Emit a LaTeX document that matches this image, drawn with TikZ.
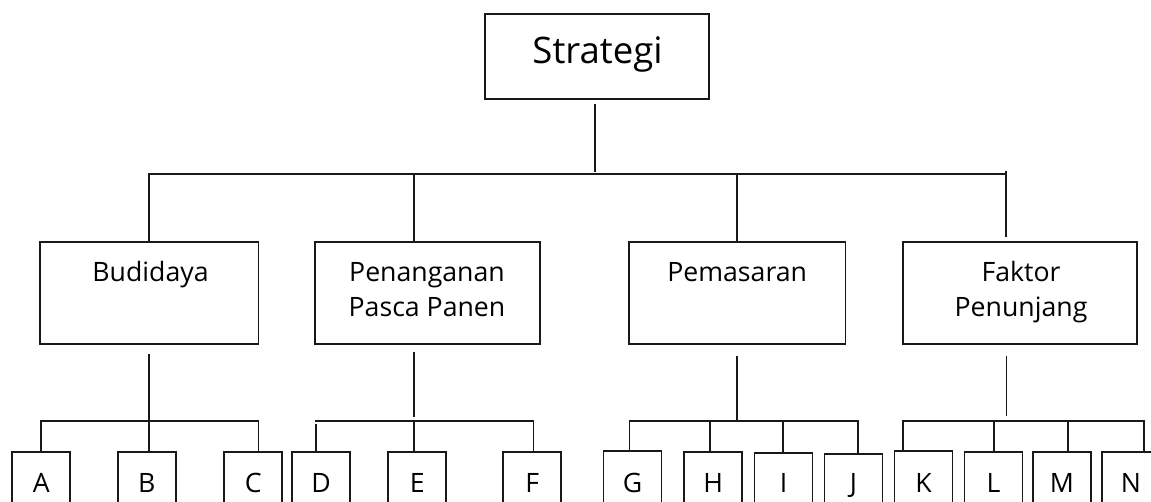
\documentclass[tikz,border=0pt]{standalone}
\usepackage{fontspec}
\setmainfont{Open Sans}
\usetikzlibrary{calc}
\begin{document}
\begin{tikzpicture}[x=0.75pt,y=-0.75pt,
  ln/.style={line width=1.3pt, draw=black!90},
  bx/.style={draw=black!90, line width=1.3pt, inner sep=0pt, rectangle},
  midbox/.style={bx, minimum height=77pt},
  lowbox/.style={bx, minimum width=43.5pt, minimum height=75pt},
  lbl/.style={inner sep=0pt, anchor=base, font=\fontsize{20}{24}\selectfont},
  toplbl/.style={inner sep=0pt, anchor=base, font=\fontsize{27.4}{33}\selectfont}]
\useasboundingbox (0,0) rectangle (1151,502);
\fill[white] (0,0) rectangle (1151,502);
\clip (0,0) rectangle (1151,502);

% top
\node[bx, minimum width=168pt, minimum height=63.75pt] (strat) at (597,56.5) {};
\node[toplbl] (stratt) at (597.5,64) {Strategi};

% middle boxes
\node[midbox, minimum width=163.9pt] (bud) at (149.25,293) {};
\node[midbox, minimum width=168.75pt] (pen) at (427.5,293) {};
\node[midbox, minimum width=162.4pt] (pem) at (737.2,293) {};
\node[midbox, minimum width=175.9pt] (fak) at (1020,293) {};
\node[lbl] (budt) at (150.5,281.7) {Budidaya};
\node[lbl] (pent1) at (427,281.7) {Penanganan};
\node[lbl] (pent2) at (427,316.7) {Pasca Panen};
\node[lbl] (pemt) at (737.2,281.7) {Pemasaran};
\node[lbl] (fakt1) at (1021,281.7) {Faktor};
\node[lbl] (fakt2) at (1021,316.7) {Penunjang};

% bottom boxes
\node[lowbox] (bA) at (41.3,501.7) {};
\node[lowbox] (bB) at (146.8,501.7) {};
\node[lowbox] (bC) at (253.25,501.7) {};
\node[lowbox] (bD) at (321,501.7) {};
\node[lowbox] (bE) at (417.3,501.7) {};
\node[lowbox] (bF) at (532.3,501.7) {};
\node[lowbox] (bG) at (632.5,501.2) {};
\node[lowbox] (bH) at (713.3,502.3) {};
\node[lowbox] (bI) at (783.6,502.7) {};
\node[lowbox] (bJ) at (853.5,504.3) {};
\node[lowbox] (bK) at (923.5,501.2) {};
\node[lowbox] (bL) at (993.5,501.7) {};
\node[lowbox] (bM) at (1062,501.7) {};
\node[lowbox] (bN) at (1131,501.7) {};
\foreach \n/\t in {A/A,B/B,C/C,D/D,E/E,F/F,G/G,H/H,I/I,J/J,K/K,L/L,M/M,N/N}{
  \node[lbl] (t\n) at (b\n.center |- 0,492) {\t};
}

% top connectors
\coordinate (busE) at (1006,174);
\coordinate (jPen) at (413.8,174);
\draw[ln] ([xshift=-1.5pt,yshift=-3pt]strat.south) -- ++(0,68);
\draw[ln] (bud.north) |- (busE);
\draw[ln] ($(busE)+(0,-2.5)$) -- ($(busE |- fak.north)+(0,-4)$);
\draw[ln] (jPen) -- (jPen |- pen.north);
\draw[ln] (pem.north) -- (pem.north |- busE);

% Budidaya children
\coordinate (cC) at (258.4,421);
\draw[ln] ($(bud.south)+(0,9)$) -- (bud.south |- bB.north);
\draw[ln] (bA.north) |- (cC) -- (cC |- bC.north);

% Penanganan children
\coordinate (pL) at (315,421);
\coordinate (pR) at (533.5,421);
\coordinate (dD) at (316,424);
\draw[ln] ($(jPen |- pen.south)+(0,6.4)$) -- ($(jPen |- pL)+(0,-4.5)$);
\draw[ln] (pL) -- (pR) -- (pR |- bF.north);
\draw[ln] (dD) -- (dD |- bD.north);
\draw[ln] (jPen |- pL) -- (jPen |- bE.north);

% Pemasaran children
\coordinate (gL) at (629.6,421);
\coordinate (gH) at (709.7,421);
\coordinate (gI) at (783,421);
\coordinate (gR) at (857.9,421);
\draw[ln] ($(pem.south)+(0,10.7)$) -- (pem.south |- gL);
\draw[ln] (gL |- bG.north) -- (gL) -- (gR) -- (gR |- bJ.north);
\draw[ln] (gH) -- (gH |- bH.north);
\draw[ln] (gI) -- (gI |- bI.north);

% Faktor children
\coordinate (fV) at (1006.5,421);
\coordinate (fK) at (903.3,421);
\coordinate (fL) at (993.8,421);
\coordinate (fM) at (1068.3,421);
\coordinate (fN) at (1144.3,421);
\draw[ln] ($(fV |- fak.south)+(0,10.7)$) -- ($(fV)+(0,-5)$);
\draw[ln] (fK |- bK.north) -- (fK) -- (fN) -- (fN |- bN.north);
\draw[ln] (fL) -- (fL |- bL.north);
\draw[ln] (fM) -- (fM |- bM.north);
\end{tikzpicture}
\end{document}
